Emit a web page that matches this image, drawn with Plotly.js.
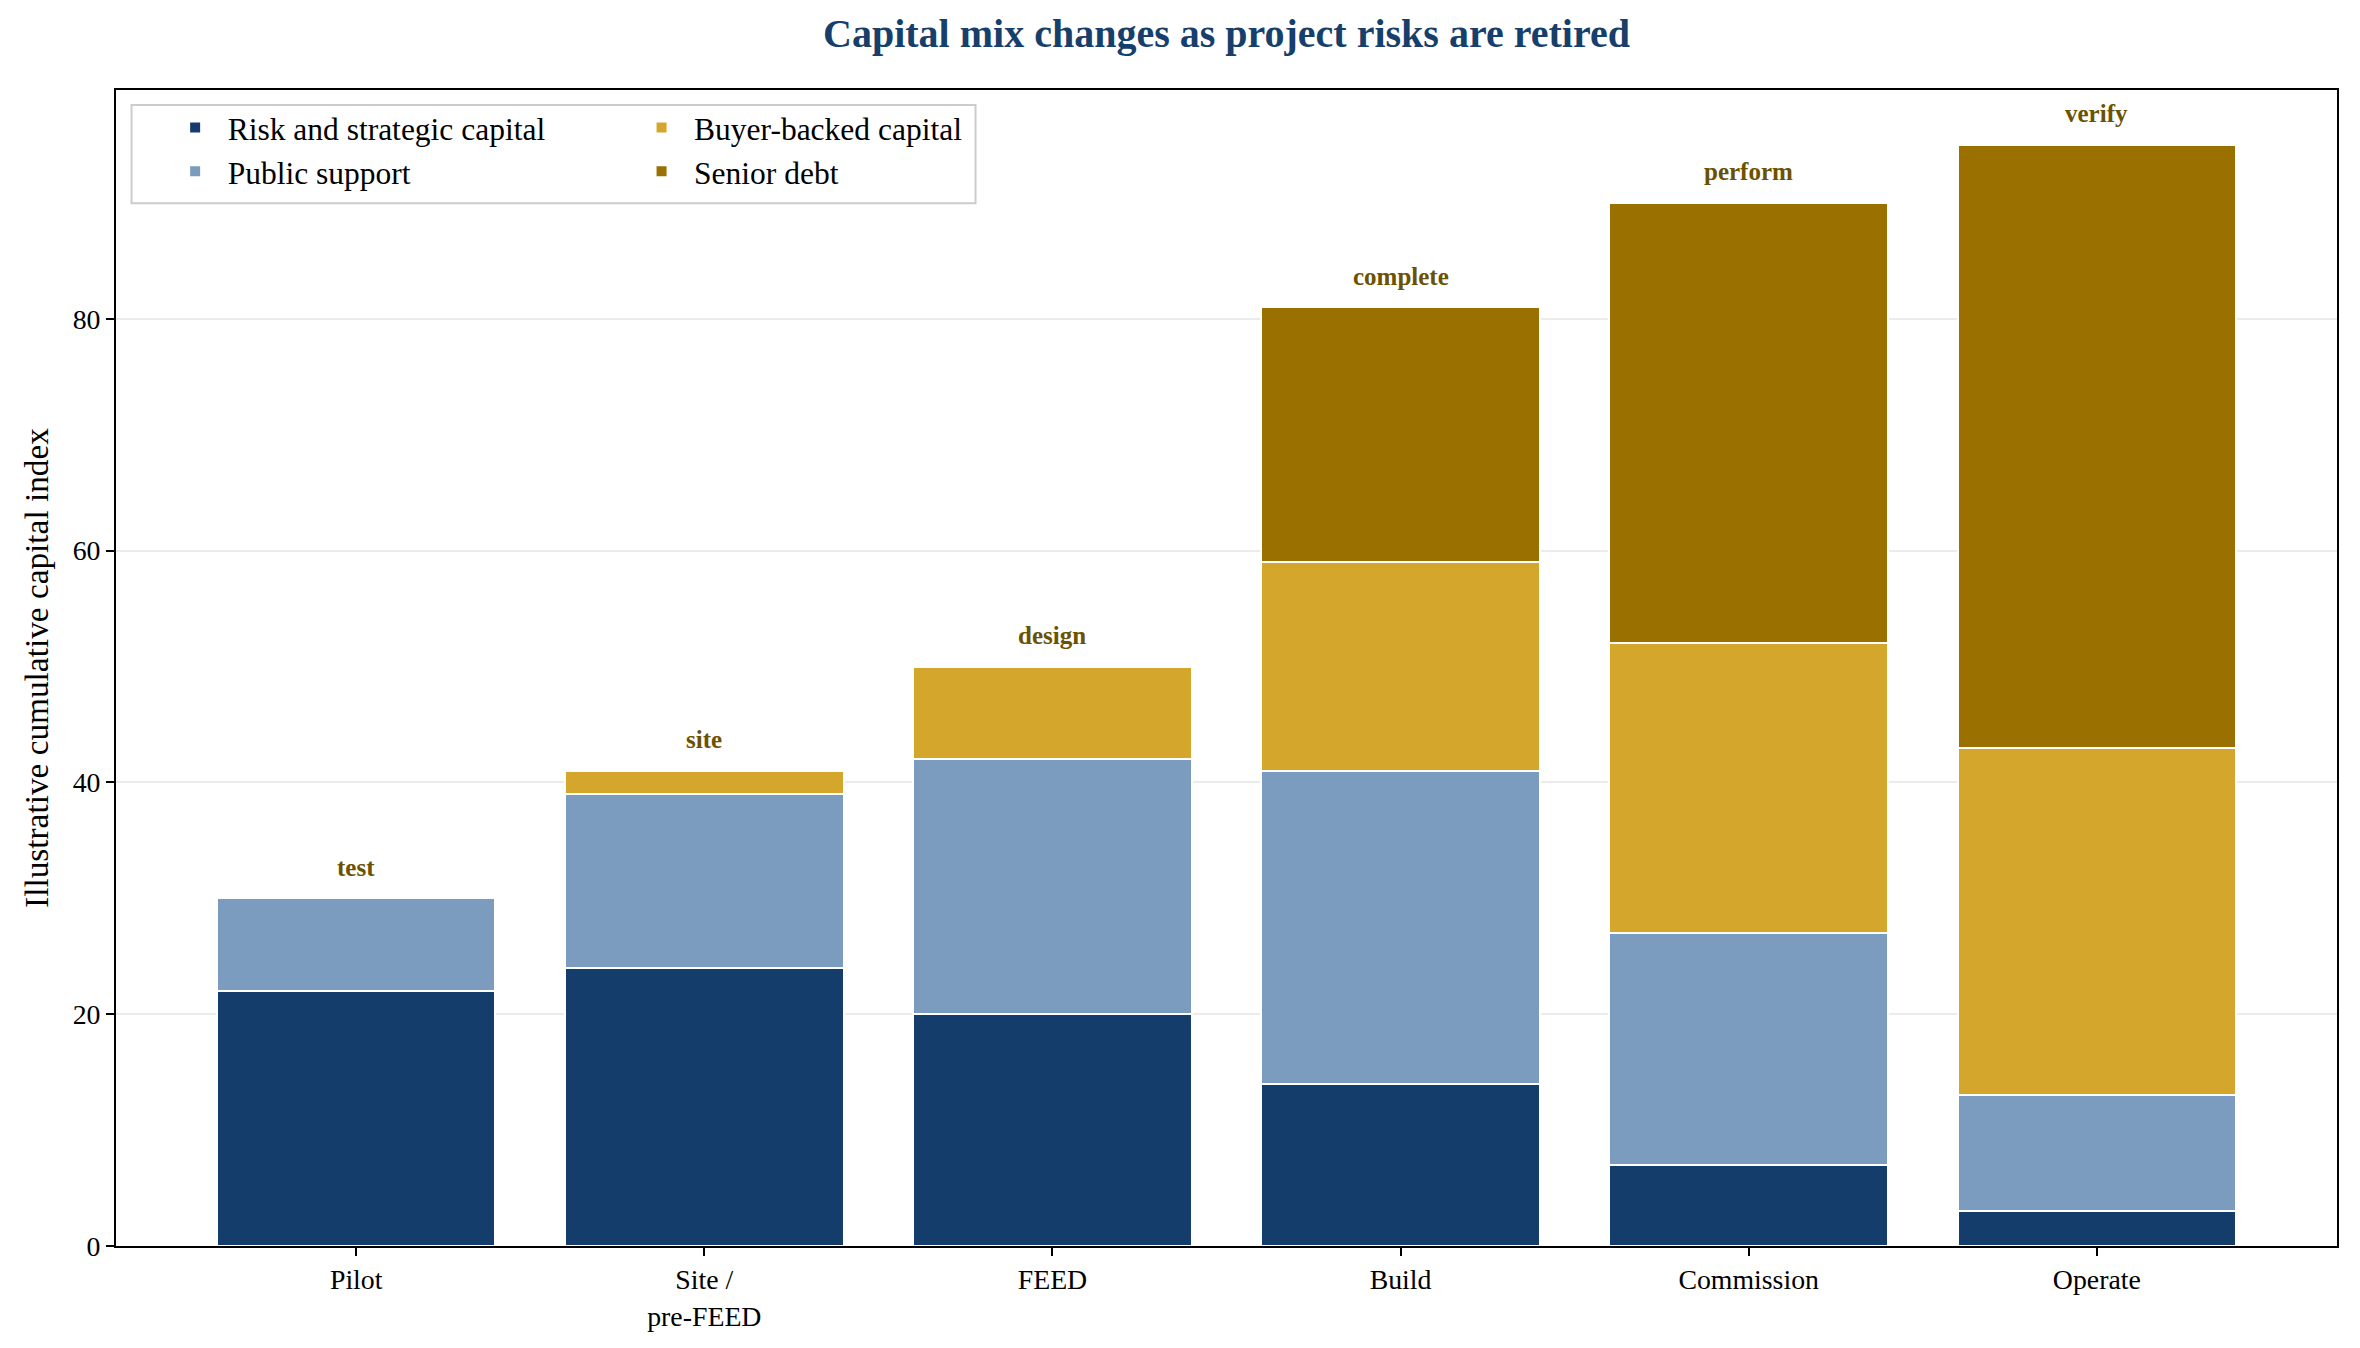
<!DOCTYPE html>
<html>
<head>
<meta charset="utf-8">
<script src="https://cdn.plot.ly/plotly-3.0.1.min.js"></script>
<style>html,body{margin:0;padding:0;background:#fff;}#chart{width:2360px;height:1348px;}</style>
</head>
<body>
<div id="chart"></div>
<script>
const stages = ["Pilot", "Site /<br>pre-FEED", "FEED", "Build", "Commission", "Operate"];
const riskCapital = [22, 24, 20, 14, 7, 3];
const publicSupport = [8, 15, 22, 27, 20, 10];
const buyerBacked = [0, 2, 8, 18, 25, 30];
const seniorDebt = [0, 0, 0, 22, 38, 52];
const stageLabels = ["test", "site", "design", "complete", "perform", "verify"];
const yTicks = [0, 20, 40, 60, 80];

const FONT = "Liberation Serif, Times New Roman, serif";
const colors = {risk: "#143d6b", pub: "#7b9cbf", buyer: "#d4a72c", senior: "#9a7000"};
const x = [0, 1, 2, 3, 4, 5];

function barTrace(name, vals, color, legend) {
  return {
    type: "bar", name: name, x: x, y: vals, width: 0.8,
    marker: {color: color, line: {color: "#ffffff", width: 2}},
    legend: legend, hoverinfo: "skip"
  };
}

const traces = [
  barTrace("Risk and strategic capital", riskCapital, colors.risk, "legend"),
  barTrace("Public support", publicSupport, colors.pub, "legend"),
  barTrace("Buyer-backed capital", buyerBacked, colors.buyer, "legend2"),
  barTrace("Senior debt", seniorDebt, colors.senior, "legend2")
];

const totals = x.map(i => riskCapital[i] + publicSupport[i] + buyerBacked[i] + seniorDebt[i]);
const annotations = x.map(i => ({
  x: i, y: totals[i] + 2.7, xref: "x", yref: "y", text: "<b>" + stageLabels[i] + "</b>",
  showarrow: false, yanchor: "middle", xanchor: "center",
  font: {family: FONT, size: 25, color: "#6b5200"}
}));

const legendCommon = {
  font: {family: FONT, size: 31.5, color: "#000"},
  bgcolor: "rgba(0,0,0,0)", borderwidth: 0,
  xanchor: "left", yanchor: "top", orientation: "v",
  tracegroupgap: 0, itemwidth: 55, traceorder: "normal"
};

const layout = {
  width: 2360, height: 1348,
  margin: {l: 116, r: 23, t: 90, b: 102},
  paper_bgcolor: "#ffffff", plot_bgcolor: "#ffffff",
  barmode: "stack", bargap: 0.2,
  font: {family: FONT, color: "#000"},
  title: {
    text: "<b>Capital mix changes as project risks are retired</b>",
    font: {family: FONT, size: 40, color: "#163f6c"},
    x: 0.5, xref: "paper", xanchor: "center", y: 1 - 33 / 1348, yanchor: "middle", yref: "container"
  },
  xaxis: {
    range: [-0.69, 5.69], tickmode: "array", tickvals: x, ticktext: stages,
    tickfont: {family: FONT, size: 27.8, color: "#000"},
    ticks: "outside", ticklen: 8, tickwidth: 2, tickcolor: "#000",
    showline: true, linecolor: "#000", linewidth: 2, mirror: true,
    showgrid: false, zeroline: false
  },
  yaxis: {
    range: [0, 99.75], tickmode: "array", tickvals: yTicks,
    tickfont: {family: FONT, size: 27.8, color: "#000"},
    ticks: "outside", ticklen: 8, tickwidth: 2, tickcolor: "#000",
    showline: true, linecolor: "#000", linewidth: 2, mirror: true,
    showgrid: true, gridcolor: "#ebebeb", gridwidth: 2, zeroline: false,
    title: {text: "Illustrative cumulative capital index", font: {family: FONT, size: 33.3, color: "#000"}, standoff: 14}
  },
  legend: Object.assign({}, legendCommon, {x: 0.021, y: 0.991}),
  legend2: Object.assign({}, legendCommon, {x: 0.231, y: 0.991}),
  shapes: [{
    type: "rect", xref: "paper", yref: "paper",
    x0: 0.007, x1: 0.387, y0: 0.902, y1: 0.987,
    line: {color: "#cccccc", width: 2}, fillcolor: "rgba(255,255,255,0.8)", layer: "below"
  }],
  annotations: annotations,
  showlegend: true
};

Plotly.newPlot("chart", traces, layout, {displayModeBar: false, staticPlot: true});
</script>
</body>
</html>
